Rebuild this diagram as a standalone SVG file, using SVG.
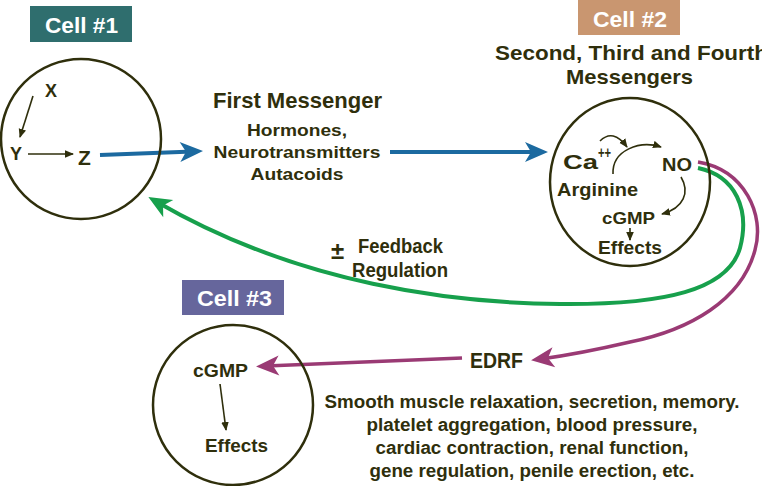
<svg xmlns="http://www.w3.org/2000/svg" width="762" height="486" viewBox="0 0 762 486">
<defs>
<style>
.t{font-family:"Liberation Sans",Arial,sans-serif;font-weight:bold;fill:#2f2f0c}
.h{font-family:"Liberation Sans",Arial,sans-serif;font-weight:bold;fill:#2f2f0c}
.lbl{font-family:"Liberation Sans",Arial,sans-serif;font-weight:bold;fill:#ffffff;font-size:22px}
.cell{fill:none;stroke:#2f2f0c;stroke-width:2.5}
.thin{fill:none;stroke:#2f2f0c;stroke-width:1.6;marker-end:url(#sm)}
.blue{fill:none;stroke:#1c6aa0;stroke-width:4;marker-end:url(#ab)}
.green{fill:none;stroke:#17a04c;stroke-width:4;marker-end:url(#ag)}
.mag{fill:none;stroke:#9a3a74;stroke-width:3.5;marker-end:url(#am)}
</style>
<marker id="sm" viewBox="-9 -4 9 8" refX="-1" refY="0" markerWidth="9" markerHeight="8" markerUnits="userSpaceOnUse" orient="auto"><path d="M0,0 L-9,-3.8 L-9,3.8Z" fill="#2f2f0c"/></marker>
<marker id="ab" viewBox="-24 -11 25 22" refX="-10" refY="0" markerWidth="25" markerHeight="22" markerUnits="userSpaceOnUse" orient="auto"><path d="M0,0 L-23,-10 L-17,0 L-23,10Z" fill="#1c6aa0"/></marker>
<marker id="ag" viewBox="-24 -11 25 22" refX="-10" refY="0" markerWidth="25" markerHeight="22" markerUnits="userSpaceOnUse" orient="auto"><path d="M0,0 L-23,-10 L-17,0 L-23,10Z" fill="#17a04c"/></marker>
<marker id="am" viewBox="-24 -11 25 22" refX="-10" refY="0" markerWidth="25" markerHeight="22" markerUnits="userSpaceOnUse" orient="auto"><path d="M0,0 L-23,-10 L-17,0 L-23,10Z" fill="#9a3a74"/></marker>
</defs>
<rect width="762" height="486" fill="#ffffff"/>

<g id="connectors">
<path class="blue" d="M100,155 L193,151.5"/>
<path class="blue" d="M390,152 L538,152"/>
<path class="green" d="M698,168 C736,176 750,210 740,248 C728,290 665,305 560,304 C455,303 300,285 157,202"/>
<path class="mag" d="M698,162 C745,170 765,215 755,250 C742,300 690,330 630,342 C600,349 570,355 541,359"/>
<path class="mag" d="M462,358 L266,366"/>
</g>

<g id="cell1">
<rect x="30" y="6" width="102" height="36" fill="#2f6e6e"/>
<text class="lbl" x="45" y="33" textLength="73" lengthAdjust="spacingAndGlyphs">Cell #1</text>
<circle class="cell" cx="81" cy="139" r="80"/>
<text class="t" x="45" y="97" font-size="18">X</text>
<text class="t" x="10" y="160" font-size="18">Y</text>
<text class="t" x="78" y="165" font-size="21">Z</text>
<path class="thin" d="M33,96 L20,137"/>
<path class="thin" d="M28,154 L73,154"/>
</g>

<g id="first-messenger">
<text class="h" x="213" y="108" font-size="22" textLength="169" lengthAdjust="spacingAndGlyphs">First Messenger</text>
<text class="t" x="297" y="136" font-size="17" text-anchor="middle" textLength="100" lengthAdjust="spacingAndGlyphs">Hormones,</text>
<text class="t" x="297" y="158" font-size="17" text-anchor="middle" textLength="167" lengthAdjust="spacingAndGlyphs">Neurotransmitters</text>
<text class="t" x="297" y="180" font-size="17" text-anchor="middle" textLength="93" lengthAdjust="spacingAndGlyphs">Autacoids</text>
</g>

<g id="cell2">
<rect x="578" y="0" width="102" height="35" fill="#c99670"/>
<text class="lbl" x="593" y="27" textLength="74" lengthAdjust="spacingAndGlyphs">Cell #2</text>
<text class="h" x="495" y="60" font-size="21" textLength="273" lengthAdjust="spacingAndGlyphs">Second, Third and Fourth</text>
<text class="h" x="566" y="84" font-size="21" textLength="127" lengthAdjust="spacingAndGlyphs">Messengers</text>
<ellipse class="cell" cx="630" cy="182" rx="80" ry="84"/>
<text class="t" x="563" y="169" font-size="20" textLength="35" lengthAdjust="spacingAndGlyphs">Ca</text>
<text class="t" x="598" y="158" font-size="16" textLength="13" lengthAdjust="spacingAndGlyphs">++</text>
<text class="t" x="662" y="171" font-size="19" textLength="30" lengthAdjust="spacingAndGlyphs">NO</text>
<text class="t" x="557" y="196" font-size="19" textLength="81" lengthAdjust="spacingAndGlyphs">Arginine</text>
<text class="t" x="602" y="224" font-size="17" textLength="53" lengthAdjust="spacingAndGlyphs">cGMP</text>
<text class="t" x="598" y="254" font-size="18" textLength="64" lengthAdjust="spacingAndGlyphs">Effects</text>
<path class="thin" d="M600,141 Q613,128 627,147"/>
<path class="thin" d="M613,174 C612,150 640,140 661,147"/>
<path class="thin" d="M681,177 C690,192 684,208 662,214"/>
<path class="thin" d="M630,228 L630,240"/>
</g>

<g id="feedback">
<text class="h" x="331" y="259" font-size="24">±</text>
<text class="h" x="358" y="253" font-size="20" textLength="85" lengthAdjust="spacingAndGlyphs">Feedback</text>
<text class="h" x="352" y="277" font-size="20" textLength="96" lengthAdjust="spacingAndGlyphs">Regulation</text>
</g>

<g id="cell3">
<rect x="182" y="280" width="102" height="35" fill="#66669c"/>
<text class="lbl" x="197" y="306" textLength="75" lengthAdjust="spacingAndGlyphs">Cell #3</text>
<circle class="cell" cx="233" cy="405" r="80"/>
<text class="t" x="193" y="377" font-size="18" textLength="55" lengthAdjust="spacingAndGlyphs">cGMP</text>
<text class="t" x="205" y="452" font-size="19" textLength="63" lengthAdjust="spacingAndGlyphs">Effects</text>
<path class="thin" d="M220,384 L226,430"/>
</g>

<g id="edrf">
<text class="h" x="470" y="368" font-size="22" textLength="53" lengthAdjust="spacingAndGlyphs">EDRF</text>
</g>

<g id="effects-list">
<text class="t" x="532" y="408" font-size="18" text-anchor="middle" textLength="415" lengthAdjust="spacingAndGlyphs">Smooth muscle relaxation, secretion, memory.</text>
<text class="t" x="532" y="431" font-size="18" text-anchor="middle" textLength="331" lengthAdjust="spacingAndGlyphs">platelet aggregation, blood pressure,</text>
<text class="t" x="532" y="454" font-size="18" text-anchor="middle" textLength="313" lengthAdjust="spacingAndGlyphs">cardiac contraction, renal function,</text>
<text class="t" x="532" y="477" font-size="18" text-anchor="middle" textLength="325" lengthAdjust="spacingAndGlyphs">gene regulation, penile erection, etc.</text>
</g>
</svg>
